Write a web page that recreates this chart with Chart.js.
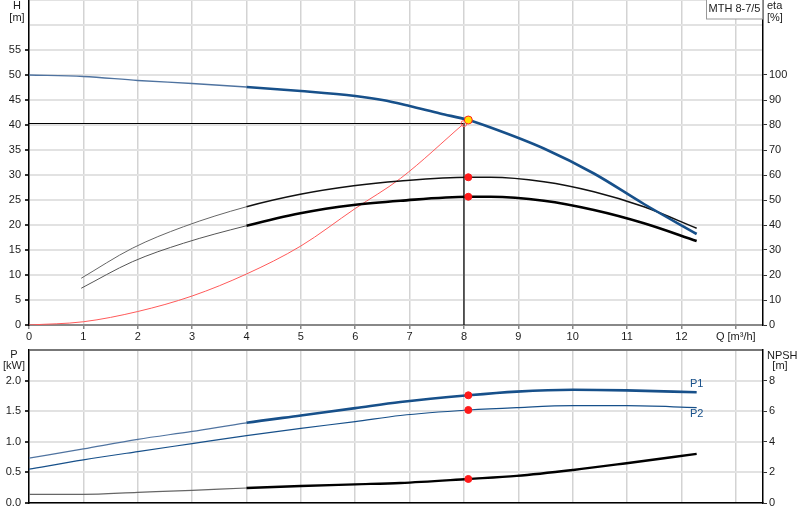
<!DOCTYPE html>
<html>
<head>
<meta charset="utf-8">
<script src="https://cdn.jsdelivr.net/npm/chart.js@4.4.0/dist/chart.umd.min.js"></script>
<style>
  body { margin: 0; background: #fff; width: 800px; height: 520px; overflow: hidden; }
  canvas { position: absolute; left: 0; }
</style>
</head>
<body>
<canvas id="topChart" width="800" height="345" style="top:0"></canvas>
<canvas id="bottomChart" width="800" height="175" style="top:345px"></canvas>
<script>
// pump curve H(Q)
const qHead = [0, 1, 2, 3, 4, 5, 6, 6.5, 7, 7.56, 8.08, 8.49, 9.47, 10.39, 11.31, 12.28];
const head = [50, 49.7, 48.9, 48.3, 47.6, 46.8, 45.8, 45, 43.8, 42.3, 41, 39.5, 35.3, 30.3, 24.2, 18.2];

// efficiency curves (right axis, %)
const qEta = [0.96, 1.9, 2.84, 4.0, 4.99, 5.97, 6.83, 8.08, 8.49, 9.47, 10.39, 11.31, 12.28];
const etaPump = [18.7, 30.7, 39.3, 47.3, 52.3, 55.7, 57.6, 59.1, 59.1, 57.3, 53.3, 47.3, 38.7];
const etaTotal = [14.7, 25.3, 32.7, 39.7, 44.7, 48, 49.7, 51.3, 51.3, 49.7, 46, 40.7, 33.6];

// system curve
const qSys = [0, 1, 2, 3, 4, 5, 6, 6.83, 8.0];
const hSys = [0, 0.65, 2.7, 5.8, 10.2, 15.8, 23.3, 29.3, 40.3];

// power and NPSH
const qPow = [0, 1, 2, 3, 4, 5, 6, 6.83, 8.08, 8.97, 10.01, 10.99, 12.28];
const p1 = [0.733, 0.885, 1.04, 1.17, 1.31, 1.43, 1.55, 1.65, 1.76, 1.82, 1.85, 1.84, 1.81];
const p2 = [0.552, 0.705, 0.84, 0.97, 1.10, 1.22, 1.33, 1.43, 1.52, 1.56, 1.59, 1.59, 1.56];
const npsh = [0.57, 0.57, 0.70, 0.83, 0.98, 1.11, 1.22, 1.31, 1.57, 1.77, 2.16, 2.60, 3.21];

// duty point and operating point
const dutyQ = 8.0, dutyH = 40.3;
const opQ = 8.08, opH = 41.0;
const opEtaPump = 59.1, opEtaTotal = 51.3;
const opP1 = 1.76, opP2 = 1.52, opNpsh = 1.57;

const pumpName = 'MTH 8-7/5';

const FONT = 'Liberation Sans, Arial, sans-serif';
const BLUE = '#17508a';
const TEXT = '#1c1c1c';

const pts = (xs, ys) => xs.map((x, i) => ({ x: x, y: ys[i] }));

// thick from Q=4 on, thin before
function thickFrom4(thick, thin, colThick, colThin) {
    return {
        borderWidth: ctx => ctx.p0.parsed.x >= 3.99 ? thick : thin,
        borderColor: ctx => ctx.p0.parsed.x >= 3.99 ? colThick : colThin
    };
}

function curve(data, axis, color, extra) {
    return Object.assign({
        data: data,
        yAxisID: axis,
        borderColor: color,
        borderWidth: 1.2,
        pointRadius: 0,
        fill: false,
        cubicInterpolationMode: 'monotone'
    }, extra || {});
}

function marker(x, y, axis, bg, border, r) {
    return {
        data: [{ x: x, y: y }],
        yAxisID: axis,
        showLine: false,
        pointRadius: r,
        pointBackgroundColor: bg,
        pointBorderColor: border,
        pointBorderWidth: 1
    };
}

function fixedWidth(w) {
    return function (s) {
        s.width = w;
        s.paddingTop = 0; s.paddingBottom = 0;
    };
}

const xGrid = { color: '#d3d3d3', lineWidth: 1.5, tickLength: 4, tickColor: '#888' };

const topLabels = {
    id: 'topLabels',
    afterDraw(chart) {
        const c = chart.ctx;
        c.save();
        c.font = '11px ' + FONT;
        c.fillStyle = TEXT;
        c.textBaseline = 'middle';
        c.textAlign = 'center';
        c.fillText('H', 17, 6);
        c.fillText('[m]', 17, 18);
        c.textAlign = 'left';
        c.fillText('eta', 767, 6);
        c.fillText('[%]', 767, 18);
        // pump name box
        c.fillStyle = '#fff';
        c.fillRect(706, 0, 56, 19);
        c.strokeStyle = '#999';
        c.lineWidth = 1;
        c.strokeRect(706.5, -1, 56, 20);
        c.fillStyle = TEXT;
        c.textAlign = 'center';
        c.fillText(pumpName, 734.5, 9);
        c.restore();
    }
};

const bottomLabels = {
    id: 'bottomLabels',
    afterDraw(chart) {
        const c = chart.ctx;
        const xs = chart.scales.x, ys = chart.scales.y;
        const last = qPow.length - 1;
        c.save();
        c.font = '11px ' + FONT;
        c.textBaseline = 'middle';
        c.textAlign = 'center';
        c.fillStyle = TEXT;
        c.fillText('P', 14, 10);
        c.fillText('[kW]', 14, 21);
        c.textAlign = 'left';
        c.fillText('NPSH', 767, 11);
        c.textAlign = 'center';
        c.fillText('[m]', 780, 21);
        c.fillStyle = BLUE;
        const lx = xs.getPixelForValue(qPow[last]);
        c.fillText('P1', lx, ys.getPixelForValue(p1[last]) - 8);
        c.fillText('P2', lx, ys.getPixelForValue(p2[last]) + 6);
        c.restore();
    }
};

new Chart(document.getElementById('topChart'), {
    type: 'line',
    data: {
        datasets: [
            marker(opQ, opH, 'y', '#ffe000', '#ff2020', 4),
            marker(opQ, opEtaPump, 'y2', '#ff1a1a', '#ff1a1a', 3.5),
            marker(opQ, opEtaTotal, 'y2', '#ff1a1a', '#ff1a1a', 3.5),
            marker(dutyQ, dutyH, 'y', 'rgba(0,0,0,0)', '#ff6060', 3),
            curve(pts(qHead, head), 'y', BLUE, { segment: thickFrom4(2.6, 1.3, BLUE, '#4f73a0') }),
            curve(pts(qEta, etaPump), 'y2', '#111', { segment: thickFrom4(1.6, 1, '#111', '#666') }),
            curve(pts(qEta, etaTotal), 'y2', '#000', { segment: thickFrom4(2.6, 1, '#000', '#555') }),
            curve(pts(qSys, hSys), 'y', '#ff5a5a', { borderWidth: 1 }),
            curve([{ x: 0, y: dutyH }, { x: dutyQ, y: dutyH }, { x: dutyQ, y: 0 }], 'y', '#000',
                { borderWidth: 1.2, cubicInterpolationMode: 'default', tension: 0 })
        ]
    },
    options: {
        responsive: false,
        animation: false,
        devicePixelRatio: 1,
        layout: { padding: 0, autoPadding: false },
        scales: {
            x: {
                type: 'linear',
                min: 0,
                max: 13.5,
                grid: xGrid,
                border: { color: '#888', width: 2 },
                ticks: {
                    stepSize: 1,
                    includeBounds: false,
                    maxRotation: 0,
                    padding: 1,
                    color: TEXT,
                    font: { size: 11, family: FONT },
                    callback: v => v === 13 ? 'Q [m³/h]' : v
                },
                afterFit(s) { s.height = 20; s.paddingLeft = 0; s.paddingRight = 0; }
            },
            y: {
                position: 'left',
                min: 0,
                max: 65,
                grid: {
                    color: '#e2e2e2',
                    lineWidth: 2,
                    tickLength: 4,
                    tickColor: ctx => ctx.tick && ctx.tick.value <= 55 ? '#333' : 'rgba(0,0,0,0)'
                },
                border: { color: '#000', width: 1.5 },
                ticks: {
                    stepSize: 5,
                    padding: 4,
                    color: TEXT,
                    font: { size: 11, family: FONT },
                    callback: v => v <= 55 ? v : ''
                },
                afterFit: fixedWidth(29)
            },
            y2: {
                position: 'right',
                min: 0,
                max: 130,
                grid: {
                    drawOnChartArea: false,
                    tickLength: 4,
                    tickColor: ctx => ctx.tick && ctx.tick.value <= 100 ? '#333' : 'rgba(0,0,0,0)'
                },
                border: { color: '#000', width: 1.5 },
                ticks: {
                    stepSize: 10,
                    padding: 2,
                    color: TEXT,
                    font: { size: 11, family: FONT },
                    callback: v => v <= 100 ? v : ''
                },
                afterFit: fixedWidth(37)
            }
        },
        plugins: {
            legend: { display: false },
            tooltip: { enabled: false }
        }
    },
    plugins: [topLabels]
});

new Chart(document.getElementById('bottomChart'), {
    type: 'line',
    data: {
        datasets: [
            marker(opQ, opP1, 'y', '#ff1a1a', '#ff1a1a', 3.5),
            marker(opQ, opP2, 'y', '#ff1a1a', '#ff1a1a', 3.5),
            marker(opQ, opNpsh, 'y2', '#ff1a1a', '#ff1a1a', 3.5),
            curve(pts(qPow, p1), 'y', BLUE, { segment: thickFrom4(2.6, 1.2, BLUE, '#4f73a0') }),
            curve(pts(qPow, p2), 'y', BLUE, { borderWidth: 1.2 }),
            curve(pts(qPow, npsh), 'y2', '#000', { segment: thickFrom4(2.4, 1.2, '#000', '#666') })
        ]
    },
    options: {
        responsive: false,
        animation: false,
        devicePixelRatio: 1,
        layout: { padding: { top: 5, bottom: 17, left: 0, right: 0 }, autoPadding: false },
        scales: {
            x: {
                type: 'linear',
                min: 0,
                max: 13.5,
                grid: { color: '#d3d3d3', lineWidth: 1.5, drawTicks: false },
                border: { color: '#000', width: 1.5 },
                ticks: { display: false, stepSize: 1, includeBounds: false },
                afterFit(s) { s.height = 0; s.paddingLeft = 0; s.paddingRight = 0; }
            },
            y: {
                position: 'left',
                min: 0,
                max: 2.5,
                grid: {
                    color: ctx => ctx.tick && ctx.tick.value >= 2.5 ? '#777' : '#e2e2e2',
                    lineWidth: 2,
                    tickLength: 4,
                    tickColor: ctx => ctx.tick && ctx.tick.value <= 2 ? '#333' : 'rgba(0,0,0,0)'
                },
                border: { color: '#000', width: 1.5 },
                ticks: {
                    stepSize: 0.5,
                    padding: 4,
                    color: TEXT,
                    font: { size: 11, family: FONT },
                    callback: v => v <= 2 ? v.toFixed(1) : ''
                },
                afterFit: fixedWidth(29)
            },
            y2: {
                position: 'right',
                min: 0,
                max: 10,
                grid: {
                    drawOnChartArea: false,
                    tickLength: 4,
                    tickColor: ctx => ctx.tick && ctx.tick.value <= 8 ? '#333' : 'rgba(0,0,0,0)'
                },
                border: { color: '#000', width: 1.5 },
                ticks: {
                    stepSize: 2,
                    padding: 2,
                    color: TEXT,
                    font: { size: 11, family: FONT },
                    callback: v => v <= 8 ? v : ''
                },
                afterFit: fixedWidth(37)
            }
        },
        plugins: {
            legend: { display: false },
            tooltip: { enabled: false }
        }
    },
    plugins: [bottomLabels]
});
</script>
</body>
</html>
